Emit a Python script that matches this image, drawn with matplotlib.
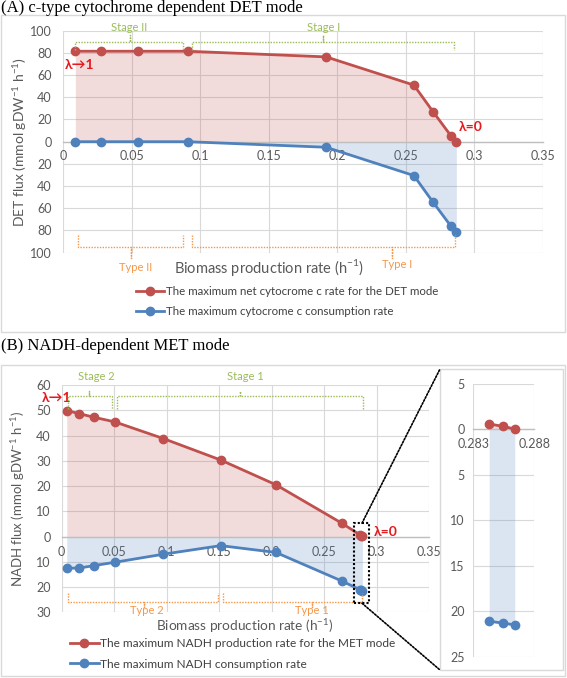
import numpy as np
import matplotlib
matplotlib.use("Agg")
import matplotlib.pyplot as plt
from matplotlib.patches import Rectangle, ConnectionPatch
from matplotlib.ticker import FuncFormatter

plt.rcParams['font.family'] = ['Lato', 'DejaVu Sans']
plt.rcParams['mathtext.fontset'] = 'custom'
plt.rcParams['mathtext.rm'] = 'Lato'

# ---------------------------------------------------------------- data
# (A) c-type cytochrome dependent DET mode
det_mu = [0.009, 0.0275, 0.0547, 0.091, 0.192, 0.256, 0.270, 0.283, 0.287]
det_net = [81.5, 81.5, 81.5, 81.5, 76.4, 51.0, 27.0, 5.4, 0.0]
det_cons = [0.0, 0.0, 0.0, 0.0, -5.0, -30.5, -54.5, -76.0, -81.5]
det_labels = ["The maximum net cytocrome c rate for the DET mode",
              "The maximum cytocrome c consumption rate"]

# (B) NADH-dependent MET mode
met_mu = [0.0048, 0.0162, 0.031, 0.0505, 0.0968, 0.1514, 0.204, 0.2667,
          0.2843, 0.2854, 0.2864]
met_prod = [49.9, 48.7, 47.2, 45.4, 38.8, 30.3, 20.5, 5.3, 0.6, 0.35, 0.05]
met_cons = [-12.5, -12.5, -11.5, -10.2, -7.0, -3.6, -6.3, -17.6,
            -21.1, -21.3, -21.5]
met_labels = ["The maximum NADH production rate for the MET mode",
              "The maximum NADH consumption rate"]

x_ticks = [0, 0.05, 0.1, 0.15, 0.2, 0.25, 0.3, 0.35]
inset_ticks = [0.283, 0.288]

RED = "#C0504D"
BLUE = "#4F81BD"
GREEN = "#9BBB59"
ORANGE = "#F79646"
LAM = "#E41A1C"
GRID = "#D9D9D9"
TXT = "#595959"

W, H = 567, 678
fig = plt.figure(figsize=(W / 100, H / 100), dpi=100)


def box(px0, py0, px1, py1):
    # pixel box (top-left origin) -> figure fraction [l, b, w, h]
    return [px0 / W, 1 - py1 / H, (px1 - px0) / W, (py1 - py0) / H]


def style(ax, ylim, ystep, xt, xpad=6):
    ax.set_xlim(xt[0], xt[-1])
    ax.set_ylim(*ylim)
    ax.set_xticks(xt)
    ax.set_yticks(np.arange(ylim[0], ylim[1] + ystep / 2, ystep))
    ax.xaxis.set_major_formatter(FuncFormatter(lambda v, p: f"{round(v, 4):g}"))
    ax.yaxis.set_major_formatter(FuncFormatter(lambda v, p: f"{abs(v):g}"))
    ax.grid(True, color=GRID, lw=0.8)
    ax.set_axisbelow(True)
    for s in ("top", "right", "left"):
        ax.spines[s].set_visible(False)
    ax.spines["bottom"].set_position(("data", 0))
    ax.spines["bottom"].set_color("#BFBFBF")
    ax.spines["bottom"].set_linewidth(1)
    ax.tick_params(axis="both", length=0, labelsize=9, colors=TXT)
    ax.tick_params(axis="x", pad=xpad)
    ax.tick_params(axis="y", pad=8)
    ax.patch.set_alpha(0)


def series(ax, x, top, bottom):
    ax.fill_between(x, top, 0, color=RED, alpha=0.2, lw=0, zorder=1)
    ax.fill_between(x, bottom, 0, color=BLUE, alpha=0.2, lw=0, zorder=1)
    l1, = ax.plot(x, top, "-o", color=RED, lw=2, ms=6, zorder=3)
    l2, = ax.plot(x, bottom, "-o", color=BLUE, lw=2, ms=6, zorder=3)
    return l1, l2


def brace(ax, x0, x1, xc, y_end, y_line, y_tip, color):
    ax.plot([x0, x0, xc, xc, xc, x1, x1],
            [y_end, y_line, y_line, y_tip, y_line, y_line, y_end],
            ls=(0, (1, 1)), color=color, lw=1, clip_on=False, zorder=4)


# frames round each panel
for y0, y1 in ((15, 332), (365, 676)):
    fig.patches.append(Rectangle(box(1, y0, 565, y1)[:2], 564 / W, (y1 - y0) / H,
                                 transform=fig.transFigure, fill=False,
                                 ec=GRID, lw=1, zorder=-1))

fig.text(1 / W, 1 - 8 / H, "(A) c-type cytochrome dependent DET mode",
         family="Liberation Serif", fontsize=12, ha="left", va="center")
fig.text(1 / W, 1 - 346 / H, "(B) NADH-dependent MET mode",
         family="Liberation Serif", fontsize=12, ha="left", va="center")

# ---------------------------------------------------------------- panel A
ax_a = fig.add_axes(box(63, 30.7, 542.7, 252.7))
style(ax_a, (-100, 100), 20, x_ticks)
ha = series(ax_a, det_mu, det_net, det_cons)

brace(ax_a, 0.009, 0.0875, 0.0486, 82.6, 90, 96, GREEN)
brace(ax_a, 0.094, 0.2855, 0.190, 82.6, 90, 96, GREEN)
ax_a.text(0.0486, 102.5, "Stage II", color=GREEN, fontsize=8, ha="center", va="center")
ax_a.text(0.190, 102.5, "Stage I", color=GREEN, fontsize=8, ha="center", va="center")
brace(ax_a, 0.0111, 0.0875, 0.0494, -84, -94.6, -105, ORANGE)
brace(ax_a, 0.094, 0.2858, 0.240, -84, -94.6, -105, ORANGE)
ax_a.text(0.0533, -113, "Type II", color=ORANGE, fontsize=8, ha="center", va="center")
ax_a.text(0.2438, -111, "Type I", color=ORANGE, fontsize=8, ha="center", va="center")

ax_a.text(0.0015, 69, "λ→1", color=LAM, fontsize=10, fontweight="bold", ha="left", va="center")
ax_a.text(0.289, 13.5, "λ=0", color=LAM, fontsize=10, fontweight="bold", ha="left", va="center")

ax_a.text((269.4 - 63) / 479.7, (252.7 - 267) / 222,
          r"Biomass production rate (h$^{-1}$)", transform=ax_a.transAxes,
          ha="center", va="center", fontsize=10.5, color=TXT)
ax_a.set_ylabel(r"DET flux (mmol gDW$^{-1}$ h$^{-1}$)", fontsize=10, color=TXT, va="center")
ax_a.yaxis.set_label_coords((20 - 63) / 479.7, 0.5)

ax_a.legend(ha, det_labels, loc="center left", frameon=False, fontsize=8.3,
            bbox_to_anchor=(135.6 / W, 1 - 301.5 / H), bbox_transform=fig.transFigure,
            handlelength=2.5, handletextpad=0.1, borderpad=0, borderaxespad=0,
            labelspacing=0.85, labelcolor="#404040")

# ---------------------------------------------------------------- panel B
ax_b = fig.add_axes(box(61.7, 385, 429.2, 612.3))
style(ax_b, (-30, 60), 10, x_ticks, xpad=7)
hb = series(ax_b, met_mu, met_prod, met_cons)

brace(ax_b, 0.0063, 0.0476, 0.0263, 50.3, 55.5, 57.5, GREEN)
brace(ax_b, 0.0524, 0.2867, 0.1698, 50.3, 55.5, 57.5, GREEN)
ax_b.text(0.033, 63.2, "Stage 2", color=GREEN, fontsize=8, ha="center", va="center")
ax_b.text(0.175, 63.2, "Stage 1", color=GREEN, fontsize=8, ha="center", va="center")
brace(ax_b, 0.0063, 0.149, 0.0784, -22.2, -25.8, -28, ORANGE)
brace(ax_b, 0.1533, 0.2857, 0.238, -22.2, -25.8, -28, ORANGE)
ax_b.text(0.081, -29.3, "Type 2", color=ORANGE, fontsize=8, ha="center", va="center")
ax_b.text(0.238, -29.3, "Type 1", color=ORANGE, fontsize=8, ha="center", va="center")

ax_b.text(-0.019, 55, "λ→1", color=LAM, fontsize=10, fontweight="bold", ha="left", va="center")
ax_b.text(0.2968, 1.6, "λ=0", color=LAM, fontsize=10, fontweight="bold", ha="left", va="center")

ax_b.text(0.499, -0.058, r"Biomass production rate (h$^{-1}$)", transform=ax_b.transAxes,
          ha="center", va="center", fontsize=9.8, color=TXT)
ax_b.set_ylabel(r"NADH flux (mmol gDW$^{-1}$ h$^{-1}$)", fontsize=9.5, color=TXT, va="center")
ax_b.yaxis.set_label_coords((18 - 61.7) / 367.5, 0.5)

ax_b.legend(hb, met_labels, loc="center left", frameon=False, fontsize=8.6,
            bbox_to_anchor=(70 / W, 1 - 653.9 / H), bbox_transform=fig.transFigure,
            handlelength=2.4, handletextpad=0.1, borderpad=0, borderaxespad=0,
            labelspacing=0.8, labelcolor="#404040")

# zoom window on the last three points
ax_b.add_patch(Rectangle((0.2784, -26.4), 0.0145, 31.7, fill=False, ec="black",
                         ls=(0, (1, 1)), lw=1.5, clip_on=False, zorder=4))

# white box holding the inset
fig.patches.append(Rectangle(box(440, 369, 563, 670)[:2], 123 / W, 301 / H,
                             transform=fig.transFigure, fc="white", ec=GRID,
                             lw=1, zorder=0.5))

for ya, yb in ((5.3, 369), (-26.4, 670)):
    con = ConnectionPatch(xyA=(0.286, ya), coordsA="data", axesA=ax_b,
                          xyB=(440 / W, 1 - yb / H), coordsB="figure fraction",
                          color="black", ls=(0, (1, 1)), lw=1.2, zorder=0.6)
    fig.add_artist(con)

ax_i = fig.add_axes(box(473.3, 384, 534.3, 656.7), zorder=1)
style(ax_i, (-25, 5), 5, inset_ticks)
ax_i.tick_params(axis="y", pad=6)
series(ax_i, met_mu[-3:], met_prod[-3:], met_cons[-3:])

fig.savefig("out.png", dpi=100)
